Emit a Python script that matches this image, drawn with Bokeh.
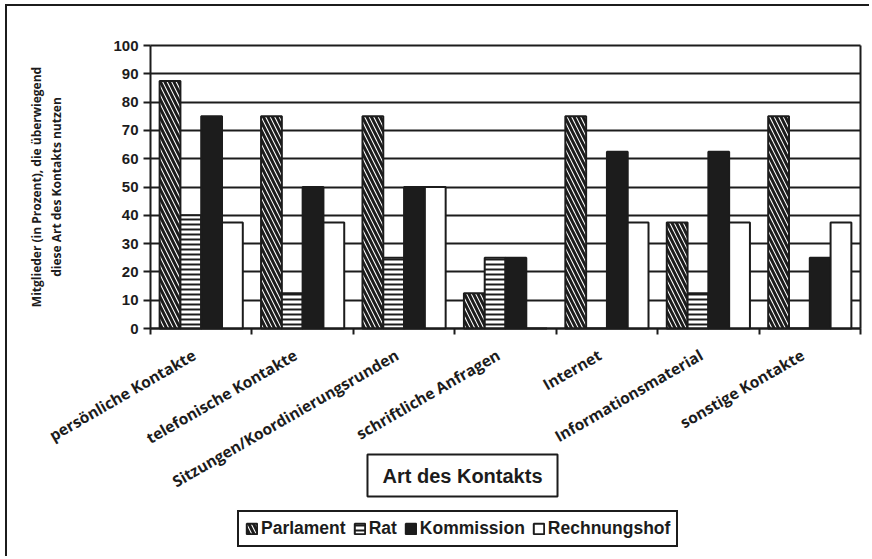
import math
from bokeh.plotting import figure
from bokeh.models import Range1d, FixedTicker, Legend, LegendItem, Label, ColumnDataSource, LinearAxis
from bokeh.embed import file_html
from bokeh.resources import INLINE

categories = ["persönliche Kontakte", "telefonische Kontakte", "Sitzungen/Koordinierungsrunden",
              "schriftliche Anfragen", "Internet", "Informationsmaterial", "sonstige Kontakte"]
series = ["Parlament", "Rat", "Kommission", "Rechnungshof"]
parlament = [87.5, 75, 75, 12.5, 75, 37.5, 75]
rat = [40, 12.5, 25, 25, 0, 12.5, 0]
kommission = [75, 50, 50, 25, 62.5, 62.5, 25]
rechnungshof = [37.5, 37.5, 50, 0, 37.5, 37.5, 37.5]
y_ticks = [0, 10, 20, 30, 40, 50, 60, 70, 80, 90, 100]
y_title = "Mitglieder (in Prozent), die überwiegend\ndiese Art des Kontakts nutzen"
x_title = "Art des Kontakts"

INK = "#1c1c1c"
n = len(categories)
centers = [i + 0.5 for i in range(n)]
label_pos = [c - 0.07 for c in centers]   # rotated labels end slightly left of the group centre
bw = 0.205

W, H = 864, 552          # drawing area inside the outer frame lines
FL, FR, FT, FB = 143, 853, 39, 322   # plot rectangle (x=0..7, y=0..100) in canvas px
sx = (FR - FL) / n
sy = (FB - FT) / 100.0
x_rng = Range1d(-FL / sx, n + (W - FR) / sx)
y_rng = Range1d(-(H - FB) / sy, 100 + FT / sy)

p = figure(width=W, height=H, output_backend="svg", toolbar_location=None,
           x_range=x_rng, y_range=y_rng, min_border=0)
p.background_fill_color = "white"
p.border_fill_color = "white"
p.outline_line_color = None
p.xgrid.visible = False
p.ygrid.ticker = FixedTicker(ticks=y_ticks)
p.ygrid.bounds = (0, 100)
p.ygrid.cross_bounds = (0, n)
p.ygrid.grid_line_color = INK
p.ygrid.grid_line_width = 2

styles = [
    dict(fill_color="white", hatch_pattern="\\", hatch_color=INK, hatch_scale=9, hatch_weight=3),
    dict(fill_color="white", hatch_pattern="-", hatch_color=INK, hatch_scale=5, hatch_weight=2),
    dict(fill_color=INK),
    dict(fill_color="white"),
]
values = [parlament, rat, kommission, rechnungshof]
renderers = []
for k, (name, vals, st) in enumerate(zip(series, values, styles)):
    off = (k - 1.5) * bw
    src = ColumnDataSource(dict(x=[c + off for c in centers], top=vals))
    r = p.vbar(x="x", top="top", bottom=0, width=bw, source=src,
               line_color=INK, line_width=2, **st)
    renderers.append(r)

# y axis (drawn at x = 0)
ya = p.yaxis[0]
ya.fixed_location = 0
ya.ticker = FixedTicker(ticks=y_ticks)
ya.bounds = (0, 100)
ya.axis_line_color = INK
ya.axis_line_width = 2
ya.major_tick_line_color = INK
ya.major_tick_line_width = 2
ya.major_tick_out = 7
ya.major_tick_in = 0
ya.minor_tick_line_color = None
ya.major_label_standoff = 5
ya.major_label_text_font = "Liberation Sans"
ya.major_label_text_font_style = "bold"
ya.major_label_text_font_size = "15px"
ya.major_label_text_color = INK

# right edge of the plot rectangle
ra = LinearAxis(fixed_location=n, bounds=(0, 100), ticker=FixedTicker(ticks=[]),
                axis_line_color=INK, axis_line_width=2,
                major_tick_line_color=None, minor_tick_line_color=None,
                major_label_text_font_size="0px")
p.add_layout(ra, "right")

# x axis drawn at value 0
xa = p.xaxis[0]
xa.fixed_location = 0
xa.bounds = (0, n)
xa.ticker = FixedTicker(ticks=label_pos, minor_ticks=list(range(n + 1)))
xa.major_label_overrides = {c: lab for c, lab in zip(label_pos, categories)}
xa.major_label_orientation = math.pi / 6
xa.axis_line_color = INK
xa.axis_line_width = 2
xa.major_tick_line_color = None
xa.major_tick_out = 0
xa.major_tick_in = 0
xa.minor_tick_line_color = INK
xa.minor_tick_line_width = 2
xa.minor_tick_out = 6
xa.minor_tick_in = 0
xa.major_label_standoff = 19
xa.major_label_text_font = "Open Sans"
xa.major_label_text_font_style = "bold"
xa.major_label_text_font_size = "15.5px"
xa.major_label_text_color = INK

y_label = Label(x=39, y=50, x_units="screen", y_units="data", text=y_title, angle=math.pi / 2,
                text_align="center", text_baseline="middle",
                text_font="Open Sans", text_font_style="bold", text_font_size="12px",
                text_color=INK)
p.add_layout(y_label)

title_box = Label(x=455, y=83, x_units="screen", y_units="screen", text=x_title,
                  text_align="center", text_baseline="middle",
                  text_font="Liberation Sans", text_font_style="bold", text_font_size="20px",
                  text_color=INK, border_line_color=INK, border_line_width=2,
                  background_fill_color="white", padding=(15, 10))
p.add_layout(title_box)

legend = Legend(items=[LegendItem(label=s, renderers=[r]) for s, r in zip(series, renderers)],
                orientation="horizontal", location=(230, 11))
legend.label_text_font = "Liberation Sans"
legend.label_text_font_style = "bold"
legend.label_text_font_size = "17.5px"
legend.label_text_color = INK
legend.glyph_width = 13
legend.glyph_height = 13
legend.label_standoff = 3
legend.spacing = 7
legend.padding = 6
legend.border_line_color = INK
legend.border_line_alpha = 1
legend.border_line_width = 2
legend.background_fill_alpha = 1
p.add_layout(legend)

p.styles = {"margin-left": "5px", "margin-top": "4px",
            "border-left": "2px solid #1c1c1c", "border-top": "2px solid #1c1c1c"}

open("out.html", "w").write(file_html(p, INLINE))
